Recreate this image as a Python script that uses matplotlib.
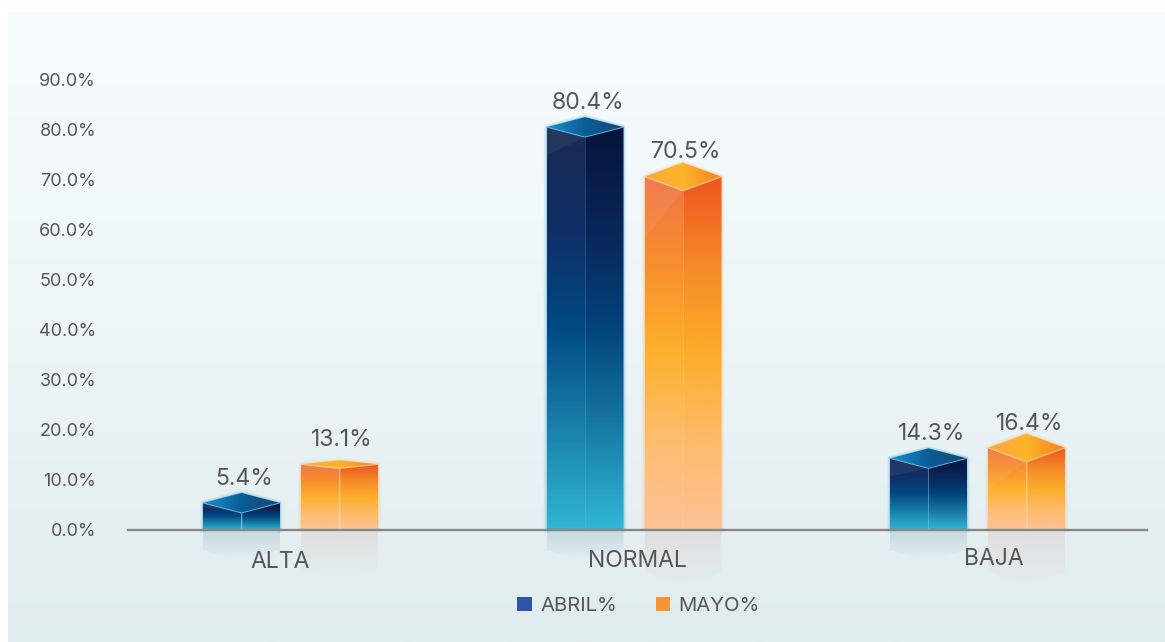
import numpy as np
import matplotlib
matplotlib.use("Agg")
import matplotlib.pyplot as plt
from matplotlib.colors import LinearSegmentedColormap, to_rgb
from matplotlib.patches import Polygon, Patch

categories = ["ALTA", "NORMAL", "BAJA"]
abril = [5.4, 80.4, 14.3]
mayo = [13.1, 70.5, 16.4]
y_ticks = [0, 10, 20, 30, 40, 50, 60, 70, 80, 90]
y_tick_labels = ["0.0%", "10.0%", "20.0%", "30.0%", "40.0%", "50.0%", "60.0%", "70.0%", "80.0%", "90.0%"]
series_names = ["ABRIL%", "MAYO%"]

W, H = 1165, 642
plt.rcParams["font.family"] = ["Inter", "DejaVu Sans"]
TXT = "#565656"

fig = plt.figure(figsize=(W / 100, H / 100), dpi=100, facecolor="white")

# panel background
bg = fig.add_axes([8 / W, 0, 1 - 8 / W, (H - 12) / H], zorder=0)
bg.axis("off")
bg_cmap = LinearSegmentedColormap.from_list("bg", ["#f7fcfd", "#f1f8fa", "#e9f2f4", "#e1ecee"])
bg.imshow(np.linspace(0, 1, 256)[:, None], cmap=bg_cmap, aspect="auto")

# main axes: y=0 at 530 px, y=90 at 79 px
L, R, Y0, Y90 = 128, 1147, 530, 79
ax = fig.add_axes([L / W, (H - Y0) / H, (R - L) / W, (Y0 - Y90) / H], zorder=1)
ax.patch.set_alpha(0)
PX_Y = (Y0 - Y90) / 90
SPACING = 343.5
X0 = 290.5
xlim = ((L - X0) / SPACING, (R - X0) / SPACING)
ax.set_xlim(*xlim)
ax.set_ylim(0, 90)
for s in ["top", "right", "left"]:
    ax.spines[s].set_visible(False)
ax.spines["bottom"].set_color("#878787")
ax.spines["bottom"].set_linewidth(1.7)
ax.spines["bottom"].set_zorder(6)
ax.set_yticks(y_ticks, y_tick_labels)
ax.set_xticks([])
ax.tick_params(axis="y", length=0, pad=23, labelsize=13, labelcolor=TXT)

A_COLORS = ["#2fb6d4", "#1a80ab", "#014a85", "#0f2e66", "#1a2a52"]
A_RIGHT = ["#30b8d6", "#187aa6", "#01437c", "#0a2558", "#06143a"]
A_TOP = ["#1c8fc8", "#0a5c98", "#1a4672"]
M_COLORS = ["#fdc296", "#fdbd70", "#fdb12c", "#f88f2e", "#ef7446"]
M_RIGHT = ["#fdc296", "#fdbb68", "#fdad28", "#f58a28", "#ef5520"]
M_TOP = ["#fda93a", "#fdb42a", "#f6801f"]


def cmap(cols):
    return LinearSegmentedColormap.from_list("c", cols)


def face(verts, grad, cols, extent, z=3):
    im = ax.imshow(grad, cmap=cmap(cols), extent=extent, aspect="auto", zorder=z,
                   vmin=0, vmax=1, origin="lower")
    im.set_clip_box(fig.bbox)
    im.set_clip_path(Polygon(verts, transform=ax.transData))


def draw_box(xc, value, depth_px, hl_px, half, left, right, top, glow, ref_rgb, ref_px, edge):
    d = depth_px / PX_Y
    x0, x1 = xc - half, xc + half
    vert = np.linspace(0, 1, 128)[:, None]
    horiz = np.linspace(0, 1, 64)[None, :]
    # glow
    for lw, a in [(4, .08), (2.5, .14), (1.2, .22)]:
        ax.plot([x0, x0, xc, x1, x1], [0, value, value + d, value, 0], color=glow, lw=lw,
                alpha=a, zorder=2.5, clip_on=False, solid_joinstyle="round")
    # faces
    face([(x0, 0), (x0, value), (xc, value - d), (xc, 0)], vert, left, [x0, xc, 0, value])
    face([(xc, 0), (xc, value - d), (x1, value), (x1, 0)], vert, right, [xc, x1, 0, value])
    face([(x0, value), (xc, value + d), (x1, value), (xc, value - d)], horiz, top,
         [x0, x1, value - d, value + d], z=3.2)
    # sheen on the left face
    hl = hl_px / PX_Y
    low = max(value - hl, 0.3)
    ax.add_patch(Polygon([(x0, value), (xc, value - d), (x0, low)], closed=True,
                         facecolor="white", edgecolor="none", alpha=.06, zorder=3.3))
    # edges
    ax.plot([x0, xc, x1], [value, value - d, value], color=edge, lw=.8, alpha=.7, zorder=3.4)
    ax.plot([xc, xc], [0, value - d], color=edge, lw=.8, alpha=.22, zorder=3.4)
    # reflection under the axis
    rd = ref_px / PX_Y
    rgba = np.zeros((64, 2, 4))
    rgba[..., :3] = to_rgb(ref_rgb)
    rgba[..., 3] = np.linspace(0.22, 0.0, 64)[:, None]
    im = ax.imshow(rgba, extent=[x0, x1, -rd - d, 0], aspect="auto", zorder=1.5, origin="upper")
    im.set_clip_box(fig.bbox)
    im.set_clip_path(Polygon([(x0, 0), (x1, 0), (x1, -rd), (xc, -rd - d), (x0, -rd)],
                             transform=ax.transData))


HALF = 38.5 / SPACING
OFFSET = 49 / SPACING
abril_depth = [10, 10, 10]
mayo_depth = [4, 14, 14]
abril_sheen = [4, 28, 18]
mayo_sheen = [6, 62, 42]

for i, (a, m) in enumerate(zip(abril, mayo)):
    draw_box(i - OFFSET, a, abril_depth[i], abril_sheen[i], HALF, A_COLORS, A_RIGHT, A_TOP,
             "#3aa8e0", "#4f8eab", 20, "#63c4ee")
    draw_box(i + OFFSET, m, mayo_depth[i], mayo_sheen[i], HALF, M_COLORS, M_RIGHT, M_TOP,
             "#fdb56a", "#c9aa98", 42, "#ffe0a8")
    ax.annotate(f"{a:.1f}%", (i - OFFSET, a), xytext=(2, 17.5), textcoords="offset points",
                ha="center", va="center", fontsize=16.5, color=TXT, zorder=7)
    ax.annotate(f"{m:.1f}%", (i + OFFSET, m), xytext=(2, 17.5), textcoords="offset points",
                ha="center", va="center", fontsize=16.5, color=TXT, zorder=7)

ax.set_xlim(*xlim)
ax.set_ylim(0, 90)

# category labels
cat_x_px = [280, 637, 994]
cat_y_px = [562, 561, 559]
for name, xp, yp in zip(categories, cat_x_px, cat_y_px):
    fig.text(xp / W, 1 - yp / H, name, ha="center", va="center", fontsize=16.5, color=TXT, zorder=8)

handles = [Patch(facecolor="#3155a4", label=series_names[0]),
           Patch(facecolor="#f79433", label=series_names[1])]
fig.legend(handles=handles, loc="center", bbox_to_anchor=(638.5 / W, 1 - 606 / H), ncol=2,
           frameon=False, fontsize=14.6, labelcolor=TXT, handlelength=.7, handleheight=.7,
           handletextpad=.42, columnspacing=1.9, borderpad=0)

fig.savefig("out.png", dpi=100)
